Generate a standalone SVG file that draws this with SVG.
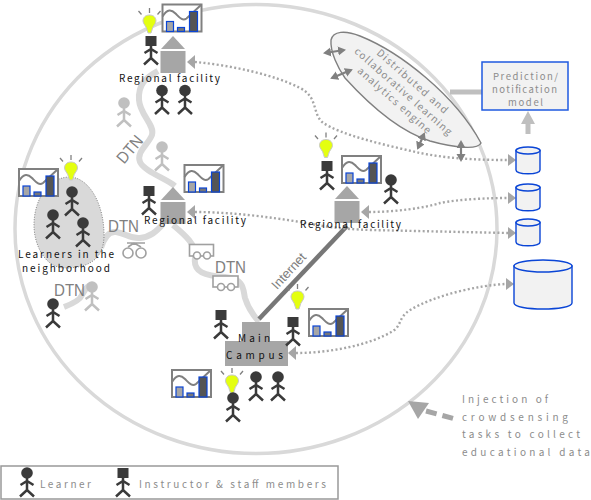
<svg xmlns="http://www.w3.org/2000/svg" width="591" height="500" viewBox="0 0 591 500">
<style>
text{font-family:"Noto Sans CJK JP","Noto Sans",sans-serif;font-size:10px}
.k{fill:#111}
.g{fill:#8c8c8c}
.m{font-size:9.500px}
.dtn{font-family:"Liberation Sans",Arial,sans-serif;font-size:16.500px;fill:#808080}
.road{fill:none;stroke:#d9d9d9;stroke-width:6}
.dot{fill:none;stroke:#a6a6a6;stroke-width:2.4;stroke-dasharray:2 2.4}
.dbl{stroke:#808080;stroke-width:2.200;marker-start:url(#ad);marker-end:url(#ad)}
.fac{fill:#a6a6a6}
.cyl{fill:#f2f2f2;stroke:#0a45d6;stroke-width:1.4}
.veh{fill:none;stroke:#a0a0a0;stroke-width:1.6}
</style>
<defs>
<marker id="ad" markerWidth="9" markerHeight="10" refX="6" refY="4.500" orient="auto-start-reverse" markerUnits="userSpaceOnUse"><path d="M0,0L8,4.500L0,9z" fill="#808080"/></marker>
<g id="limbs"><path d="M0,4V17M-6.500,12L0,8L6.500,12M-7,23.500L0,17L7,23.500" fill="none" stroke-width="2.500"/></g>
<g id="learner" stroke="#3a3a3a"><circle r="5.800" fill="#3a3a3a" stroke="none"/><use href="#limbs"/></g>
<g id="ghost" stroke="#c0c0c0"><circle r="5.800" fill="#c0c0c0" stroke="none"/><use href="#limbs"/></g>
<g id="staff" stroke="#3a3a3a"><rect x="-5.500" y="-5" width="11" height="10" fill="#3a3a3a" stroke="none"/><use href="#limbs"/></g>
<g id="bulb"><path d="M0,-9C4.500,-9 6.500,-6 6.500,-3C6.500,0 3,2 2.500,6L1.500,9H-1.500L-2.500,6C-3,2 -6.500,0 -6.500,-3C-6.500,-6 -4.500,-9 0,-9z" fill="#e4ff10" stroke="#c8c8c8"/><path d="M0,-16V-11M-11,-13L-8,-9.500M11,-13L8,-9.500" stroke="#808080" stroke-width="1.300"/></g>
<g id="chart"><rect x="1" y="1" width="39" height="27" fill="#fff" stroke="#808080" stroke-width="2"/><path d="M1,13C6,5 10,6 14,10S21,18 25,15L40,1" fill="none" stroke="#808080" stroke-width="2"/><rect x="5" y="18" width="7" height="10" fill="#a6a6a6" stroke="#0a45d6" stroke-width="1.200"/><rect x="16" y="24" width="7" height="4" fill="#777" stroke="#0a45d6" stroke-width="1.200"/><rect x="28" y="8" width="8" height="20" fill="#555" stroke="#0a45d6" stroke-width="1.200"/></g>
<g id="house" class="fac"><path d="M0,0L12,13H-12z"/><rect x="-12.500" y="15" width="25" height="22"/></g>
</defs>
<rect width="591" height="500" fill="#fff"/>
<ellipse id="area" cx="256" cy="229" rx="241" ry="224.500" fill="none" stroke="#d9d9d9" stroke-width="3.500"/>
<g id="connectors">
<path class="road" d="M158,71C145,78 138,85 139,100C140,115 155,125 152,135C148,145 136,152 140,162C145,172 165,178 175,186"/>
<path class="road" d="M173,225C185,235 197,245 195,258C193,272 205,276 225,277C245,279 243,290 245,298C248,308 252,314 259,322"/>
<path class="road" d="M101,248C104,238 108,231 116,232C125,233 130,239 140,238C150,237 156,232 163,224"/>
<path class="road" d="M64,307C72,304 80,300 82,295C84,291 85,288 90,285"/>
<path d="M347,226L259,319" stroke="#777" stroke-width="4.500"/>
<path class="dot" d="M195,62C230,65 275,75 300,88C318,97 312,112 322,122C340,135 385,145 420,153C450,159 480,160 508,160"/>
<path class="dot" d="M369,212C395,212 425,208 440,203C460,199 490,198 508,198"/>
<path class="dot" d="M195,212C230,212 270,217 300,222C320,226 340,229 370,230L508,233"/>
<path class="dot" d="M296,353C330,353 370,345 393,331C402,325 398,318 410,310C435,295 480,285 506,284"/>
<g fill="#a6a6a6"><path d="M187,62L195,55V69z"/><path d="M516,160L508,154V166z"/><path d="M361,212L369,205V219z"/><path d="M516,198L508,192V204z"/><path d="M187,212L195,205V219z"/><path d="M516,233L508,227V239z"/><path d="M288,353L296,346V360z"/><path d="M514,284L506,278V290z"/></g>
<path d="M450,92H482" stroke="#bfbfbf" stroke-width="5"/>
<path d="M528,134V122" stroke="#bfbfbf" stroke-width="5"/><path d="M528,111L535,124H521z" fill="#bfbfbf"/>
<path d="M426,411L455,419" stroke="#a6a6a6" stroke-width="5" stroke-dasharray="11 6"/><path d="M408,401L429,403L418,419z" fill="#a6a6a6"/>
</g>
<g id="engine"><path d="M331,40C333,31 345,30 360,36C400,52 455,95 481,143C478,150 455,148 430,141C395,130 365,100 345,78C338,68 330,52 331,40z" fill="#f2f2f2" stroke="#808080" stroke-width="1.400"/>
<text class="g" text-anchor="middle" textLength="91" transform="translate(410,84) rotate(41.500)">Distributed and</text>
<text class="g" text-anchor="middle" textLength="126" transform="translate(401,94) rotate(41.500)">collaborative learning</text>
<text class="g" text-anchor="middle" textLength="94" transform="translate(392,103) rotate(41.500)">analytics engine</text>
<path class="dbl" d="M325,53L344,50"/><path class="dbl" d="M332,78L351,70"/><path class="dbl" d="M424,134L418,148"/><path class="dbl" d="M461,142L461,160"/>
</g>
<g id="model"><rect x="482" y="62" width="86" height="48" fill="#f2f2f2" stroke="#1f5ae0" stroke-width="1.500"/>
<text class="g m" x="493" y="80" textLength="65">Prediction/</text><text class="g m" x="492" y="93" textLength="65">notification</text><text class="g m" x="508" y="106" textLength="35">model</text></g>
<g id="db1"><path class="cyl" d="M516,150.500V170C516,175 540,175 540,170V150.500z"/><ellipse class="cyl" cx="528" cy="150.500" rx="12" ry="3.500"/></g>
<g id="db2"><path class="cyl" d="M516,187.500V207C516,212 540,212 540,207V187.500z"/><ellipse class="cyl" cx="528" cy="187.500" rx="12" ry="3.500"/></g>
<g id="db3"><path class="cyl" d="M516,222.500V242C516,247 540,247 540,242V222.500z"/><ellipse class="cyl" cx="528" cy="222.500" rx="12" ry="3.500"/></g>
<g id="db4"><path class="cyl" d="M514,266V303C514,311 572,311 572,303V266z"/><ellipse class="cyl" cx="543" cy="266" rx="29" ry="6"/></g>
<g id="facility-top"><use href="#house" x="173" y="36"/><use href="#staff" x="151" y="41"/><use href="#bulb" x="149.500" y="24"/><use href="#chart" x="161.500" y="3.500"/><use href="#learner" x="162" y="90.500"/><use href="#learner" x="185" y="90.500"/><text class="k" x="119" y="81.500" textLength="101">Regional facility</text></g>
<g id="ghost1"><use href="#ghost" x="124" y="103"/></g>
<g id="ghost2"><use href="#ghost" x="162" y="147"/></g>
<g id="facility-mid"><use href="#house" x="173" y="187"/><use href="#staff" x="149" y="191"/><use href="#chart" x="183.500" y="164"/><text class="k" x="144" y="223.500" textLength="102">Regional facility</text></g>
<g id="facility-right"><use href="#house" x="347" y="186"/><use href="#staff" x="327" y="166"/><use href="#bulb" x="326" y="148.500"/><use href="#chart" x="341" y="155"/><use href="#learner" x="391" y="180"/><text class="k" x="300" y="228" textLength="101">Regional facility</text></g>
<g id="neighborhood"><path d="M70,177C90,178 104,205 104,235C104,262 85,268 65,268C45,268 34,245 34,225C34,200 48,177 70,177z" fill="#d9d9d9" stroke="#808080" stroke-dasharray="1 1.500"/><use href="#bulb" x="71" y="171"/><use href="#chart" x="18" y="168"/><use href="#learner" x="72" y="192"/><use href="#learner" x="53" y="215"/><use href="#learner" x="83" y="223"/><text class="k" x="18" y="258" textLength="96">Learners in the</text><text class="k" x="22" y="272" textLength="88">neighborhood</text></g>
<g id="learner-left"><use href="#learner" x="53" y="304"/></g>
<g id="ghost3"><use href="#ghost" x="92" y="287"/></g>
<g id="bike"><circle class="veh" cx="128" cy="253" r="5" stroke-width="2.500"/><circle class="veh" cx="141" cy="253" r="5" stroke-width="2.500"/><path class="veh" d="M128,247L134,243L141,247M127,243H145"/></g>
<g id="cart1"><rect x="189.500" y="244.500" width="24" height="11.500" fill="#fff" stroke="#a0a0a0" stroke-width="1.600"/><circle cx="197" cy="255.500" r="3.500" fill="#fff" stroke="#a0a0a0" stroke-width="1.600"/><circle cx="207" cy="255.500" r="3.500" fill="#fff" stroke="#a0a0a0" stroke-width="1.600"/></g>
<g id="cart2"><rect x="213" y="276" width="25" height="11" fill="#fff" stroke="#a0a0a0" stroke-width="1.600"/><circle cx="221" cy="287" r="3.500" fill="#fff" stroke="#a0a0a0" stroke-width="1.600"/><circle cx="231" cy="287" r="3.500" fill="#fff" stroke="#a0a0a0" stroke-width="1.600"/></g>
<g id="campus"><rect class="fac" x="242" y="322" width="28" height="20"/><rect class="fac" x="225" y="341" width="63" height="25"/><text class="k" x="238" y="342" textLength="32">Main</text><text class="k" x="226" y="359" textLength="57">Campus</text>
<use href="#staff" x="221" y="315"/><use href="#staff" x="293" y="322"/><use href="#bulb" x="297.500" y="300"/><use href="#chart" x="308" y="308"/><use href="#chart" x="171" y="369"/><use href="#bulb" x="232" y="384"/><use href="#learner" x="233" y="398"/><use href="#learner" x="256" y="377"/><use href="#learner" x="278" y="377"/></g>
<g id="labels">
<text class="dtn" text-anchor="middle" textLength="31" lengthAdjust="spacingAndGlyphs" transform="translate(134,153) rotate(-50)">DTN</text>
<text class="dtn" x="108" y="232" textLength="31" lengthAdjust="spacingAndGlyphs">DTN</text><text class="dtn" x="215" y="273" textLength="31" lengthAdjust="spacingAndGlyphs">DTN</text><text class="dtn" x="54" y="296" textLength="31" lengthAdjust="spacingAndGlyphs">DTN</text>
<text text-anchor="middle" style="font-family:'Liberation Sans',sans-serif;font-size:13px;fill:#808080" transform="translate(292,274) rotate(-47.500)">Internet</text>
<text class="g" x="462" y="403" textLength="86">Injection of</text><text class="g" x="462" y="421" textLength="106">crowdsensing</text><text class="g" x="462" y="438" textLength="118">tasks to collect</text><text class="g" x="462" y="456" textLength="128">educational data</text>
</g>
<g id="legend"><rect x="1" y="466" width="337" height="33" fill="none" stroke="#999" stroke-width="1.500"/><use href="#learner" x="27" y="473"/><use href="#staff" x="123" y="473"/><text class="g" x="40" y="488" textLength="51">Learner</text><text class="g" x="139" y="488" textLength="187">Instructor &amp; staff members</text></g>
</svg>
